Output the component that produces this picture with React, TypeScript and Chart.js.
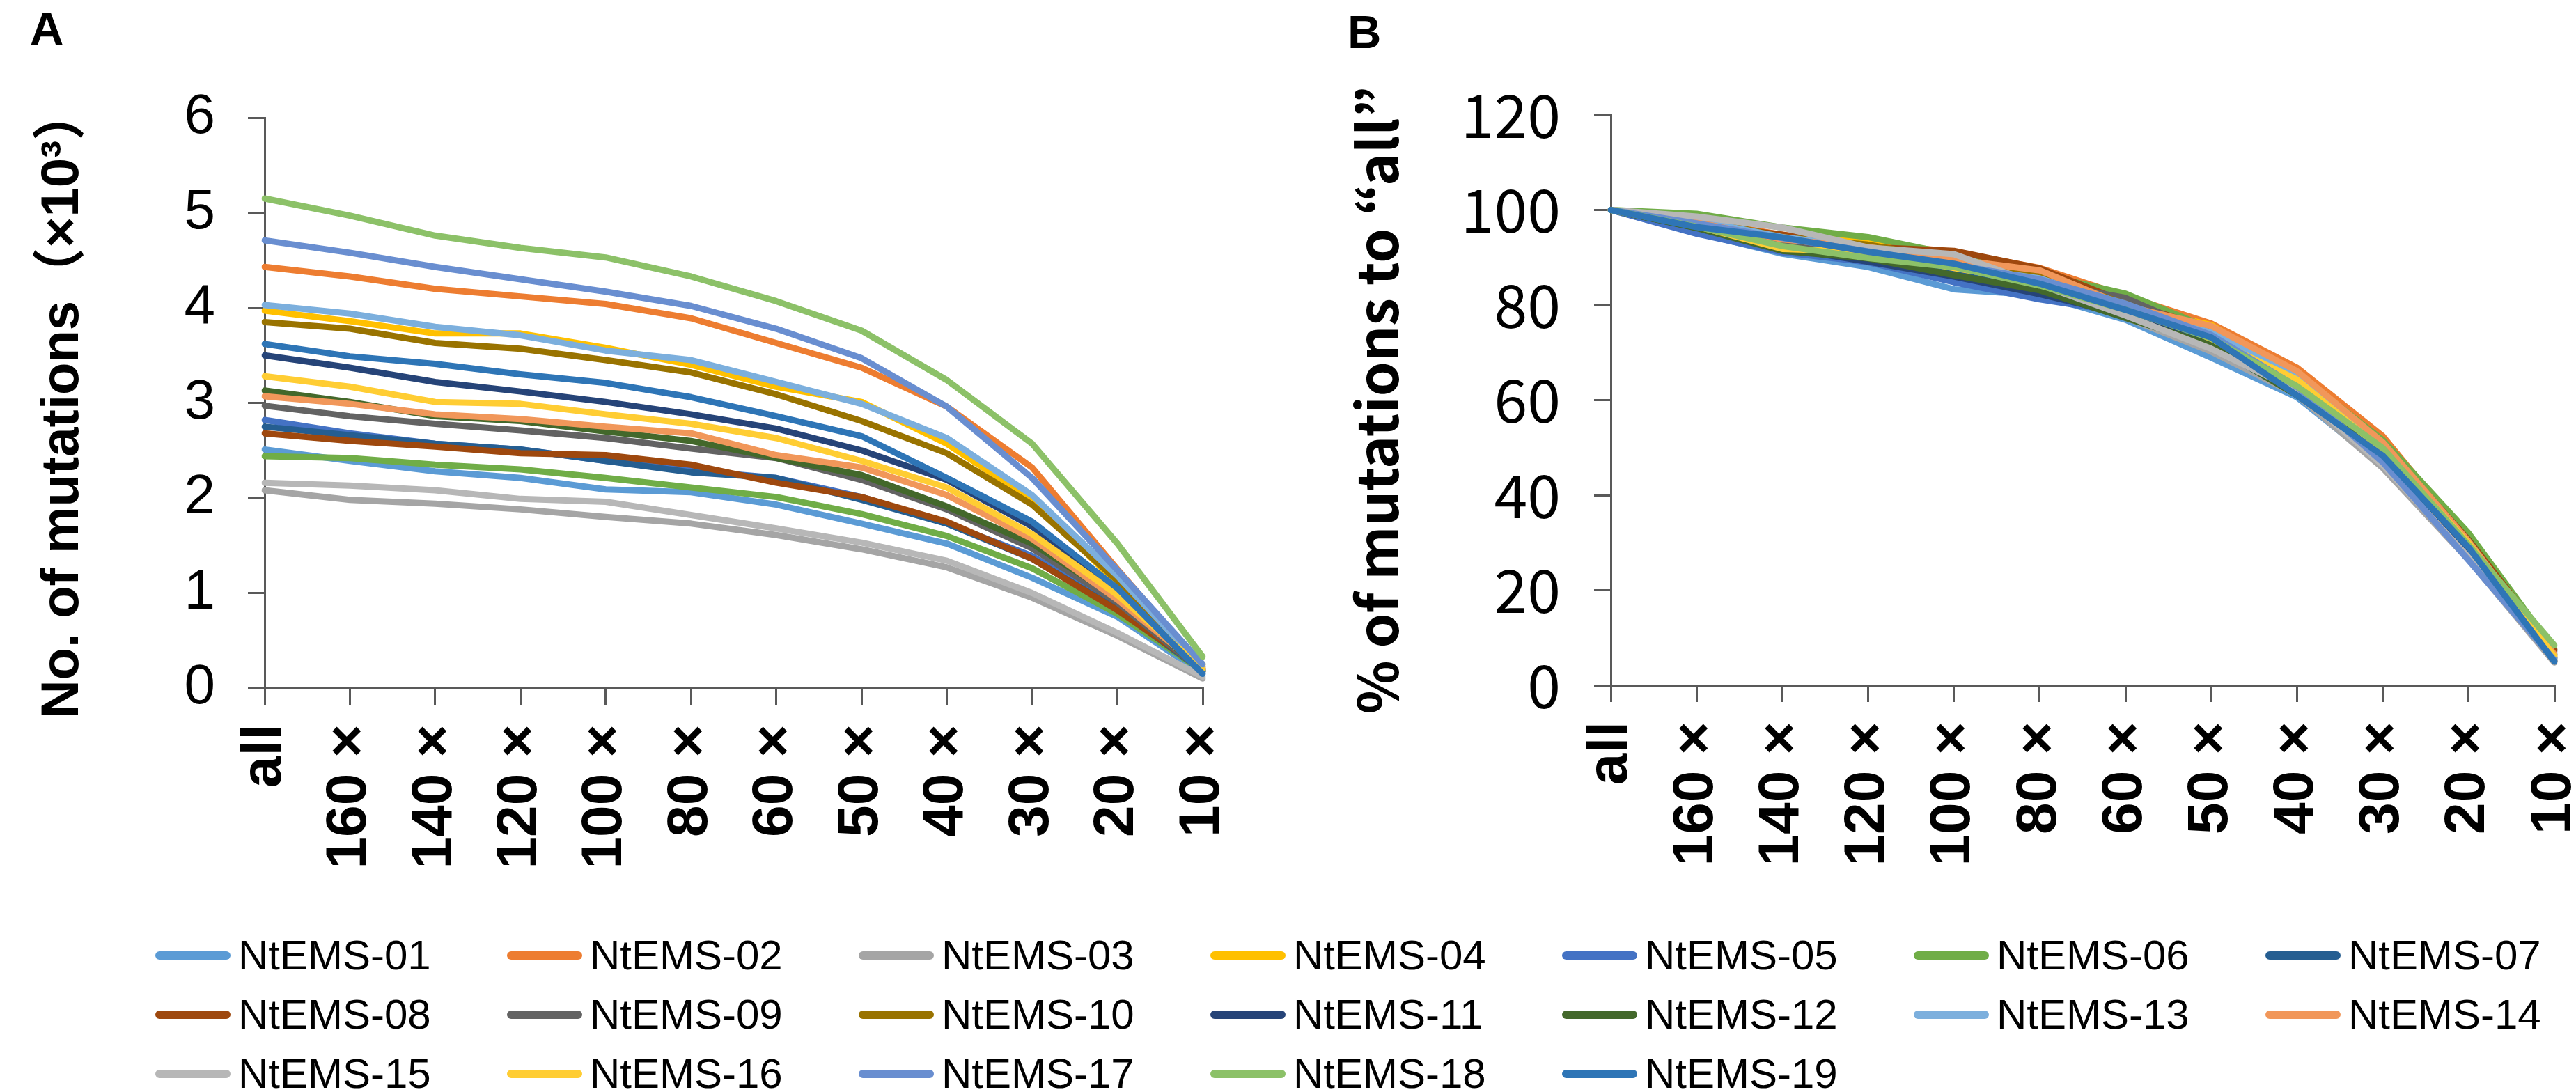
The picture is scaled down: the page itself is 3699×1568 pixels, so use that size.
import React, { useEffect, useRef } from "react";
import { Chart, registerables } from "chart.js";

Chart.register(...registerables);

// sequencing depth cut-offs
const depthLabels = ["all", "160×", "140×", "120×", "100×", "80×", "60×", "50×", "40×", "30×", "20×", "10×"];

const seriesNames = [
  "NtEMS-01", "NtEMS-02", "NtEMS-03", "NtEMS-04", "NtEMS-05", "NtEMS-06", "NtEMS-07",
  "NtEMS-08", "NtEMS-09", "NtEMS-10", "NtEMS-11", "NtEMS-12", "NtEMS-13", "NtEMS-14",
  "NtEMS-15", "NtEMS-16", "NtEMS-17", "NtEMS-18", "NtEMS-19",
];

const seriesColors = [
  "#5B9BD5", "#ED7D31", "#A5A5A5", "#FFC000", "#4472C4", "#70AD47", "#255E91",
  "#9E480E", "#636363", "#997300", "#264478", "#43682B", "#7CAFDD", "#F1975A",
  "#B7B7B7", "#FFCD33", "#698ED0", "#8CC168", "#2E75B6",
];

// panel A, number of mutations (x10^3)
const mutationCounts = [
  [2.51, 2.39, 2.28, 2.21, 2.09, 2.06, 1.93, 1.73, 1.52, 1.16, 0.75, 0.15],
  [4.43, 4.33, 4.20, 4.12, 4.04, 3.89, 3.63, 3.37, 2.96, 2.32, 1.25, 0.22],
  [2.08, 1.98, 1.94, 1.88, 1.80, 1.73, 1.61, 1.46, 1.27, 0.95, 0.55, 0.10],
  [3.97, 3.86, 3.73, 3.73, 3.58, 3.40, 3.17, 3.01, 2.57, 1.98, 1.10, 0.25],
  [2.82, 2.68, 2.57, 2.51, 2.39, 2.29, 2.21, 2.01, 1.73, 1.39, 0.85, 0.20],
  [2.44, 2.42, 2.35, 2.30, 2.21, 2.11, 2.01, 1.83, 1.60, 1.26, 0.78, 0.18],
  [2.75, 2.66, 2.57, 2.51, 2.39, 2.27, 2.21, 1.98, 1.73, 1.36, 0.83, 0.18],
  [2.68, 2.60, 2.54, 2.47, 2.45, 2.35, 2.16, 2.01, 1.75, 1.36, 0.82, 0.20],
  [2.97, 2.86, 2.78, 2.71, 2.63, 2.52, 2.42, 2.19, 1.88, 1.47, 0.90, 0.17],
  [3.85, 3.78, 3.63, 3.57, 3.45, 3.32, 3.09, 2.81, 2.47, 1.93, 1.13, 0.20],
  [3.50, 3.37, 3.22, 3.12, 3.01, 2.88, 2.73, 2.50, 2.19, 1.70, 1.00, 0.18],
  [3.13, 3.01, 2.86, 2.81, 2.70, 2.60, 2.42, 2.24, 1.91, 1.52, 0.95, 0.18],
  [4.03, 3.94, 3.80, 3.71, 3.55, 3.45, 3.22, 2.99, 2.63, 2.03, 1.18, 0.22],
  [3.07, 2.99, 2.88, 2.83, 2.75, 2.68, 2.45, 2.32, 2.03, 1.57, 0.93, 0.20],
  [2.16, 2.13, 2.08, 1.99, 1.96, 1.82, 1.68, 1.53, 1.34, 1.00, 0.58, 0.12],
  [3.28, 3.17, 3.01, 2.99, 2.88, 2.78, 2.63, 2.39, 2.11, 1.62, 0.98, 0.20],
  [4.71, 4.58, 4.43, 4.30, 4.17, 4.02, 3.78, 3.47, 2.96, 2.21, 1.24, 0.25],
  [5.15, 4.97, 4.76, 4.63, 4.53, 4.33, 4.07, 3.76, 3.24, 2.57, 1.52, 0.33],
  [3.62, 3.49, 3.41, 3.30, 3.21, 3.06, 2.86, 2.65, 2.21, 1.75, 1.05, 0.15],
];

// panel B, % of mutations relative to "all"
const percentOfAll = [
  [100, 95.2, 90.8, 88.0, 83.3, 82.1, 76.9, 68.9, 60.6, 46.2, 29.9, 6.0],
  [100, 97.7, 94.8, 93.0, 91.2, 87.8, 81.9, 76.1, 66.8, 52.4, 30.5, 5.0],
  [100, 95.2, 93.3, 90.4, 86.5, 83.2, 77.4, 70.2, 61.1, 45.7, 26.4, 4.8],
  [100, 97.2, 94.0, 94.0, 90.2, 85.6, 79.8, 75.8, 64.7, 49.9, 27.7, 6.3],
  [100, 95.0, 91.1, 89.0, 84.8, 81.2, 78.4, 71.3, 61.3, 49.3, 30.1, 7.1],
  [100, 99.2, 96.3, 94.3, 90.6, 86.5, 82.4, 75.0, 65.6, 51.6, 32.0, 7.4],
  [100, 96.7, 93.5, 91.3, 86.9, 82.5, 80.4, 72.0, 62.9, 49.5, 30.2, 6.5],
  [100, 97.0, 94.8, 92.2, 91.4, 87.7, 80.6, 75.0, 65.3, 50.7, 30.6, 7.5],
  [100, 96.3, 93.6, 91.2, 88.6, 84.8, 81.5, 73.7, 63.3, 49.5, 30.3, 5.7],
  [100, 98.2, 94.3, 92.7, 89.6, 86.2, 80.3, 73.0, 64.2, 50.1, 29.4, 5.2],
  [100, 96.3, 92.0, 89.1, 86.0, 82.3, 78.0, 71.4, 62.6, 48.6, 28.6, 5.1],
  [100, 96.2, 91.4, 89.8, 86.3, 83.1, 77.3, 71.6, 61.0, 48.6, 30.4, 5.8],
  [100, 97.8, 94.3, 92.1, 88.1, 85.6, 79.9, 74.2, 65.3, 50.4, 29.3, 5.5],
  [100, 97.4, 93.8, 92.2, 89.6, 87.3, 79.8, 75.6, 66.1, 51.1, 30.3, 6.5],
  [100, 98.6, 96.3, 92.1, 90.7, 84.3, 77.8, 70.8, 62.0, 46.3, 26.9, 5.6],
  [100, 96.6, 91.8, 91.2, 87.8, 84.8, 80.2, 72.9, 64.3, 49.4, 29.9, 6.1],
  [100, 97.2, 94.1, 91.3, 88.5, 85.4, 80.3, 73.7, 62.8, 46.9, 26.3, 5.3],
  [100, 96.5, 92.4, 89.9, 88.0, 84.1, 79.0, 73.0, 62.9, 49.9, 29.5, 8.4],
  [100, 96.4, 94.2, 91.2, 88.7, 84.5, 79.0, 73.2, 61.0, 48.3, 29.0, 5.0],
];

const AXIS_GREY = "#595959";
const LATIN = "'Liberation Sans', Arial, 'Noto Sans CJK JP', sans-serif";
const JP = "'Noto Sans CJK JP', 'Noto Sans', sans-serif";

interface PanelProps {
  values: number[][];
  yMax: number;
  yStep: number;
  yTitle: string;
  yTickFont: { family: string; size: number; weight: string };
  yTitleFont: { family: string; size: number; weight: string };
  yTickPad: number;
  titlePad: number;
  width: number;
  height: number;
  plotLeft: number;
  plotTop: number;
  plotRight: number;
  plotBottom: number;
}

const Panel = (p: PanelProps) => {
  const canvasRef = useRef<HTMLCanvasElement>(null);

  useEffect(() => {
    if (!canvasRef.current) return;

    const axisGrid = {
      drawOnChartArea: false,
      drawTicks: true,
      tickLength: 24,
      color: AXIS_GREY,
      lineWidth: 3,
    };

    const chart = new Chart(canvasRef.current, {
      type: "line",
      data: {
        labels: depthLabels,
        datasets: seriesNames.map((name, i) => ({
          label: name,
          data: p.values[i],
          borderColor: seriesColors[i],
          backgroundColor: seriesColors[i],
          borderWidth: 9,
          pointRadius: 0,
          pointHoverRadius: 0,
          tension: 0,
          borderJoinStyle: "round" as const,
          borderCapStyle: "round" as const,
          // later series sit on top, like the spreadsheet original
          order: seriesNames.length - i,
        })),
      },
      options: {
        responsive: false,
        animation: false,
        layout: {
          padding: { left: 0, top: p.plotTop, right: p.width - p.plotRight, bottom: 0 },
        },
        plugins: {
          legend: { display: false },
          tooltip: { enabled: false },
        },
        scales: {
          x: {
            grid: axisGrid,
            border: { display: true, color: AXIS_GREY, width: 3 },
            ticks: {
              autoSkip: false,
              minRotation: 90,
              maxRotation: 90,
              padding: 28,
              color: "#000",
              font: { family: LATIN, size: 82, weight: "bold" },
              callback: (_v, i) => depthLabels[i].replace("×", " ×"),
            },
            afterFit: (s: any) => {
              s.height = p.height - p.plotBottom;
              s.paddingLeft = 0;
              s.paddingRight = 0;
            },
          },
          y: {
            min: 0,
            max: p.yMax,
            grid: axisGrid,
            border: { display: true, color: AXIS_GREY, width: 3 },
            ticks: {
              stepSize: p.yStep,
              padding: p.yTickPad,
              color: "#000",
              font: p.yTickFont,
            },
            title: {
              display: true,
              text: p.yTitle,
              color: "#000",
              font: p.yTitleFont,
              padding: { top: p.titlePad, bottom: 0 },
            },
            afterFit: (s: any) => {
              s.width = p.plotLeft;
            },
          },
        },
      },
    });

    return () => chart.destroy();
  }, []);

  return (
    <canvas
      ref={canvasRef}
      width={p.width}
      height={p.height}
      style={{ display: "block", width: p.width, height: p.height }}
    />
  );
};

const panelLetter: React.CSSProperties = {
  position: "absolute",
  font: `bold 67px ${LATIN}`,
  lineHeight: 1,
  color: "#000",
};

export default function App() {
  return (
    <div
      style={{
        position: "absolute",
        left: 0,
        top: 0,
        width: 3699,
        height: 1568,
        background: "#fff",
        overflow: "hidden",
      }}
    >
      <div style={{ position: "absolute", left: 0, top: 0 }}>
        <Panel
          values={mutationCounts}
          yMax={6}
          yStep={1}
          yTitle="No. of mutations（×10³）"
          yTickFont={{ family: LATIN, size: 80, weight: "normal" }}
          yTitleFont={{ family: LATIN, size: 76, weight: "bold" }}
          yTickPad={47}
          titlePad={45}
          width={1850}
          height={1300}
          plotLeft={380}
          plotTop={169}
          plotRight={1727}
          plotBottom={988}
        />
      </div>
      <div style={{ position: "absolute", left: 1850, top: 0 }}>
        <Panel
          values={percentOfAll}
          yMax={120}
          yStep={20}
          yTitle="% of mutations to “all”"
          yTickFont={{ family: JP, size: 86, weight: "normal" }}
          yTitleFont={{ family: JP, size: 80, weight: "bold" }}
          yTickPad={48}
          titlePad={80}
          width={1849}
          height={1300}
          plotLeft={463}
          plotTop={165}
          plotRight={1818}
          plotBottom={984}
        />
      </div>

      <div style={{ ...panelLetter, left: 43, top: 7 }}>A</div>
      <div style={{ ...panelLetter, left: 1935, top: 12 }}>B</div>

      {seriesNames.map((name, i) => (
        <div
          key={name}
          style={{
            position: "absolute",
            left: 223 + (i % 7) * 505,
            top: 1342 + Math.floor(i / 7) * 85,
            height: 60,
            display: "flex",
            alignItems: "center",
          }}
        >
          <div
            style={{
              width: 108,
              height: 12,
              borderRadius: 6,
              background: seriesColors[i],
              marginRight: 11,
            }}
          />
          <span style={{ font: `60px ${LATIN}`, lineHeight: "60px", color: "#000" }}>{name}</span>
        </div>
      ))}
    </div>
  );
}
